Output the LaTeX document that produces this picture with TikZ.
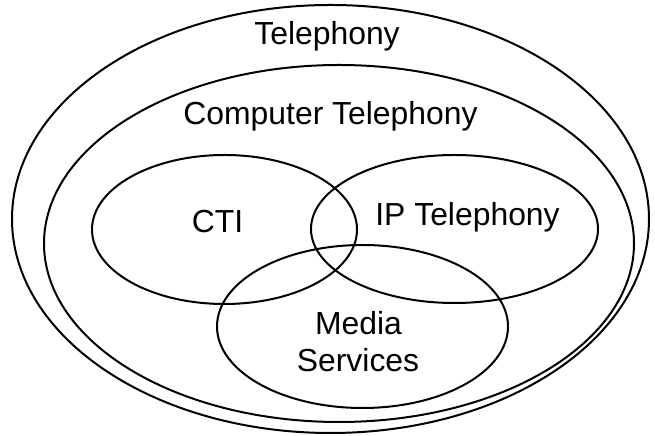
\documentclass[tikz,border=0pt]{standalone}
\usepackage{fontspec}
\setmainfont{Liberation Sans}
\begin{document}
\begin{tikzpicture}[x=1bp,y=1bp,
  ring/.style={draw=black,line width=2bp},
  lbl/.style={font=\fontsize{32}{37}\selectfont,inner sep=0pt,anchor=base}]
\useasboundingbox (0,0) rectangle (655,436);
\fill[white] (0,0) rectangle (655,436);
\draw[ring] (330.5,217) ellipse [x radius=318.5,y radius=214];
\draw[ring] (339,192.5) ellipse [x radius=295,y radius=178.5];
\draw[ring] (224.5,206.5) ellipse [x radius=132.5,y radius=74.5];
\draw[ring] (454.5,207) ellipse [x radius=143.5,y radius=74];
\draw[ring] (362.5,109.5) ellipse [x radius=145.5,y radius=81.5];
\node[lbl] (tel) at (327,391) {Telephony};
\node[lbl] (ct) at (330.5,311) {Computer Telephony};
\node[lbl] (cti) at (217.5,203) {CTI};
\node[lbl] (ip) at (467.5,210) {IP Telephony};
\node[lbl] (media) at (358.5,101) {Media};
\node[lbl] (serv) at (358,64) {Services};
\end{tikzpicture}
\end{document}
